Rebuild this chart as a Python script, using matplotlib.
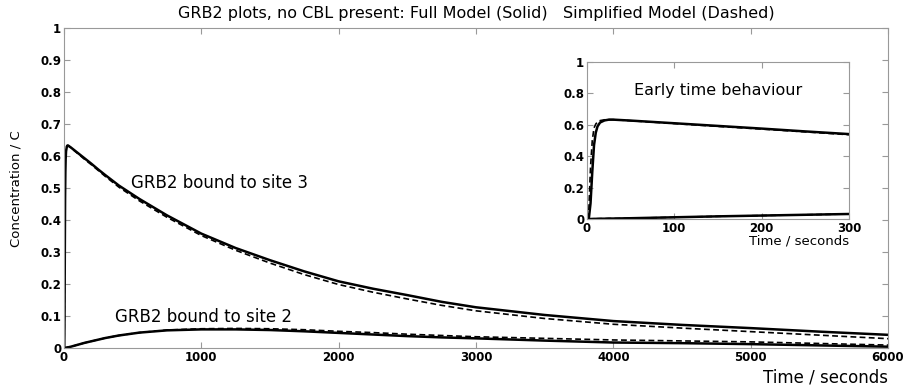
import numpy as np
import matplotlib.pyplot as plt

plt.rcParams['font.family'] = ['DejaVu Sans']

# time points (seconds)
t = [0, 2, 4, 6, 8, 10, 12, 15, 20, 25, 30, 50, 100, 150, 200, 250, 300,
     400, 550, 750, 1000, 1250, 1500, 1750, 2000, 2250, 2500, 2750, 3000,
     3500, 4000, 4500, 5000, 5500, 6000]

# GRB2 bound to site 3
site3_full = [0, 0.0, 0.10, 0.30, 0.47, 0.55, 0.59, 0.615, 0.628, 0.633, 0.633,
              0.627, 0.610, 0.593, 0.576, 0.558, 0.541, 0.508, 0.466, 0.415,
              0.358, 0.313, 0.275, 0.240, 0.209, 0.186, 0.166, 0.145, 0.128,
              0.104, 0.085, 0.073, 0.063, 0.052, 0.042]
site3_simp = [0, 0.05, 0.33, 0.50, 0.58, 0.605, 0.618, 0.627, 0.632, 0.633, 0.633,
              0.626, 0.608, 0.590, 0.573, 0.555, 0.537, 0.503, 0.460, 0.409,
              0.352, 0.306, 0.266, 0.230, 0.199, 0.175, 0.154, 0.134, 0.117,
              0.093, 0.075, 0.063, 0.052, 0.041, 0.030]

# GRB2 bound to site 2
site2_full = [0, 0, 0, 0.0005, 0.001, 0.001, 0.0015, 0.002, 0.002, 0.003, 0.003,
              0.005, 0.011, 0.017, 0.022, 0.027, 0.032, 0.040, 0.049, 0.056,
              0.059, 0.059, 0.057, 0.053, 0.048, 0.043, 0.038, 0.034, 0.031,
              0.024, 0.018, 0.016, 0.013, 0.009, 0.005]
site2_simp = [0, 0, 0, 0.0005, 0.001, 0.001, 0.0015, 0.002, 0.002, 0.003, 0.003,
              0.005, 0.011, 0.017, 0.022, 0.027, 0.032, 0.040, 0.049, 0.057,
              0.061, 0.062, 0.061, 0.058, 0.053, 0.049, 0.044, 0.040, 0.036,
              0.031, 0.026, 0.023, 0.020, 0.015, 0.010]

frame = '#999999'

def style(ax):
    for s in ax.spines.values():
        s.set_color(frame)
        s.set_linewidth(0.8)
    ax.tick_params(direction='in', top=True, right=True, color=frame,
                   length=4, labelsize=8.5, pad=2)
    for lab in ax.get_xticklabels() + ax.get_yticklabels():
        lab.set_fontweight('bold')

def draw(ax):
    ax.plot(t, site3_full, color='black', lw=1.8)
    ax.plot(t, site2_full, color='black', lw=1.8)
    ax.plot(t, site3_simp, color='black', lw=1.2, ls=(0, (3.5, 2)))
    ax.plot(t, site2_simp, color='black', lw=1.2, ls=(0, (3.5, 2)))

fig = plt.figure(figsize=(9.09, 3.86), dpi=100)
ax = fig.add_axes([0.0704, 0.0977, 0.9065, 0.8298])
draw(ax)
ax.set_xlim(0, 6000)
ax.set_ylim(0, 1)
ax.set_xticks(np.arange(0, 6001, 1000))
ax.set_yticks(np.arange(0, 1.01, 0.1))
ax.set_yticklabels(['0', '0.1', '0.2', '0.3', '0.4', '0.5', '0.6', '0.7',
                    '0.8', '0.9', '1'])
style(ax)
ax.set_title('GRB2 plots, no CBL present: Full Model (Solid)   Simplified Model (Dashed)',
             fontsize=11.5, pad=7.5)
ax.set_xlabel('Time / seconds', fontsize=12, loc='right', labelpad=3)
ax.set_ylabel('Concentration / C', fontsize=9.5, labelpad=13)
ax.text(488, 0.516, 'GRB2 bound to site 3', fontsize=12, va='center')
ax.text(371, 0.099, 'GRB2 bound to site 2', fontsize=12, va='center')

ins = fig.add_axes([0.6458, 0.4326, 0.2882, 0.4067])
draw(ins)
ins.set_xlim(0, 300)
ins.set_ylim(0, 1)
ins.set_xticks([0, 100, 200, 300])
ins.set_yticks([0, 0.2, 0.4, 0.6, 0.8, 1])
ins.set_yticklabels(['0', '0.2', '0.4', '0.6', '0.8', '1'])
style(ins)
ins.set_xlabel('Time / seconds', fontsize=9.5, loc='right', labelpad=0)
ins.text(0.5, 0.82, 'Early time behaviour', transform=ins.transAxes,
         ha='center', va='center', fontsize=11.5)

fig.savefig('out.png', dpi=100)
